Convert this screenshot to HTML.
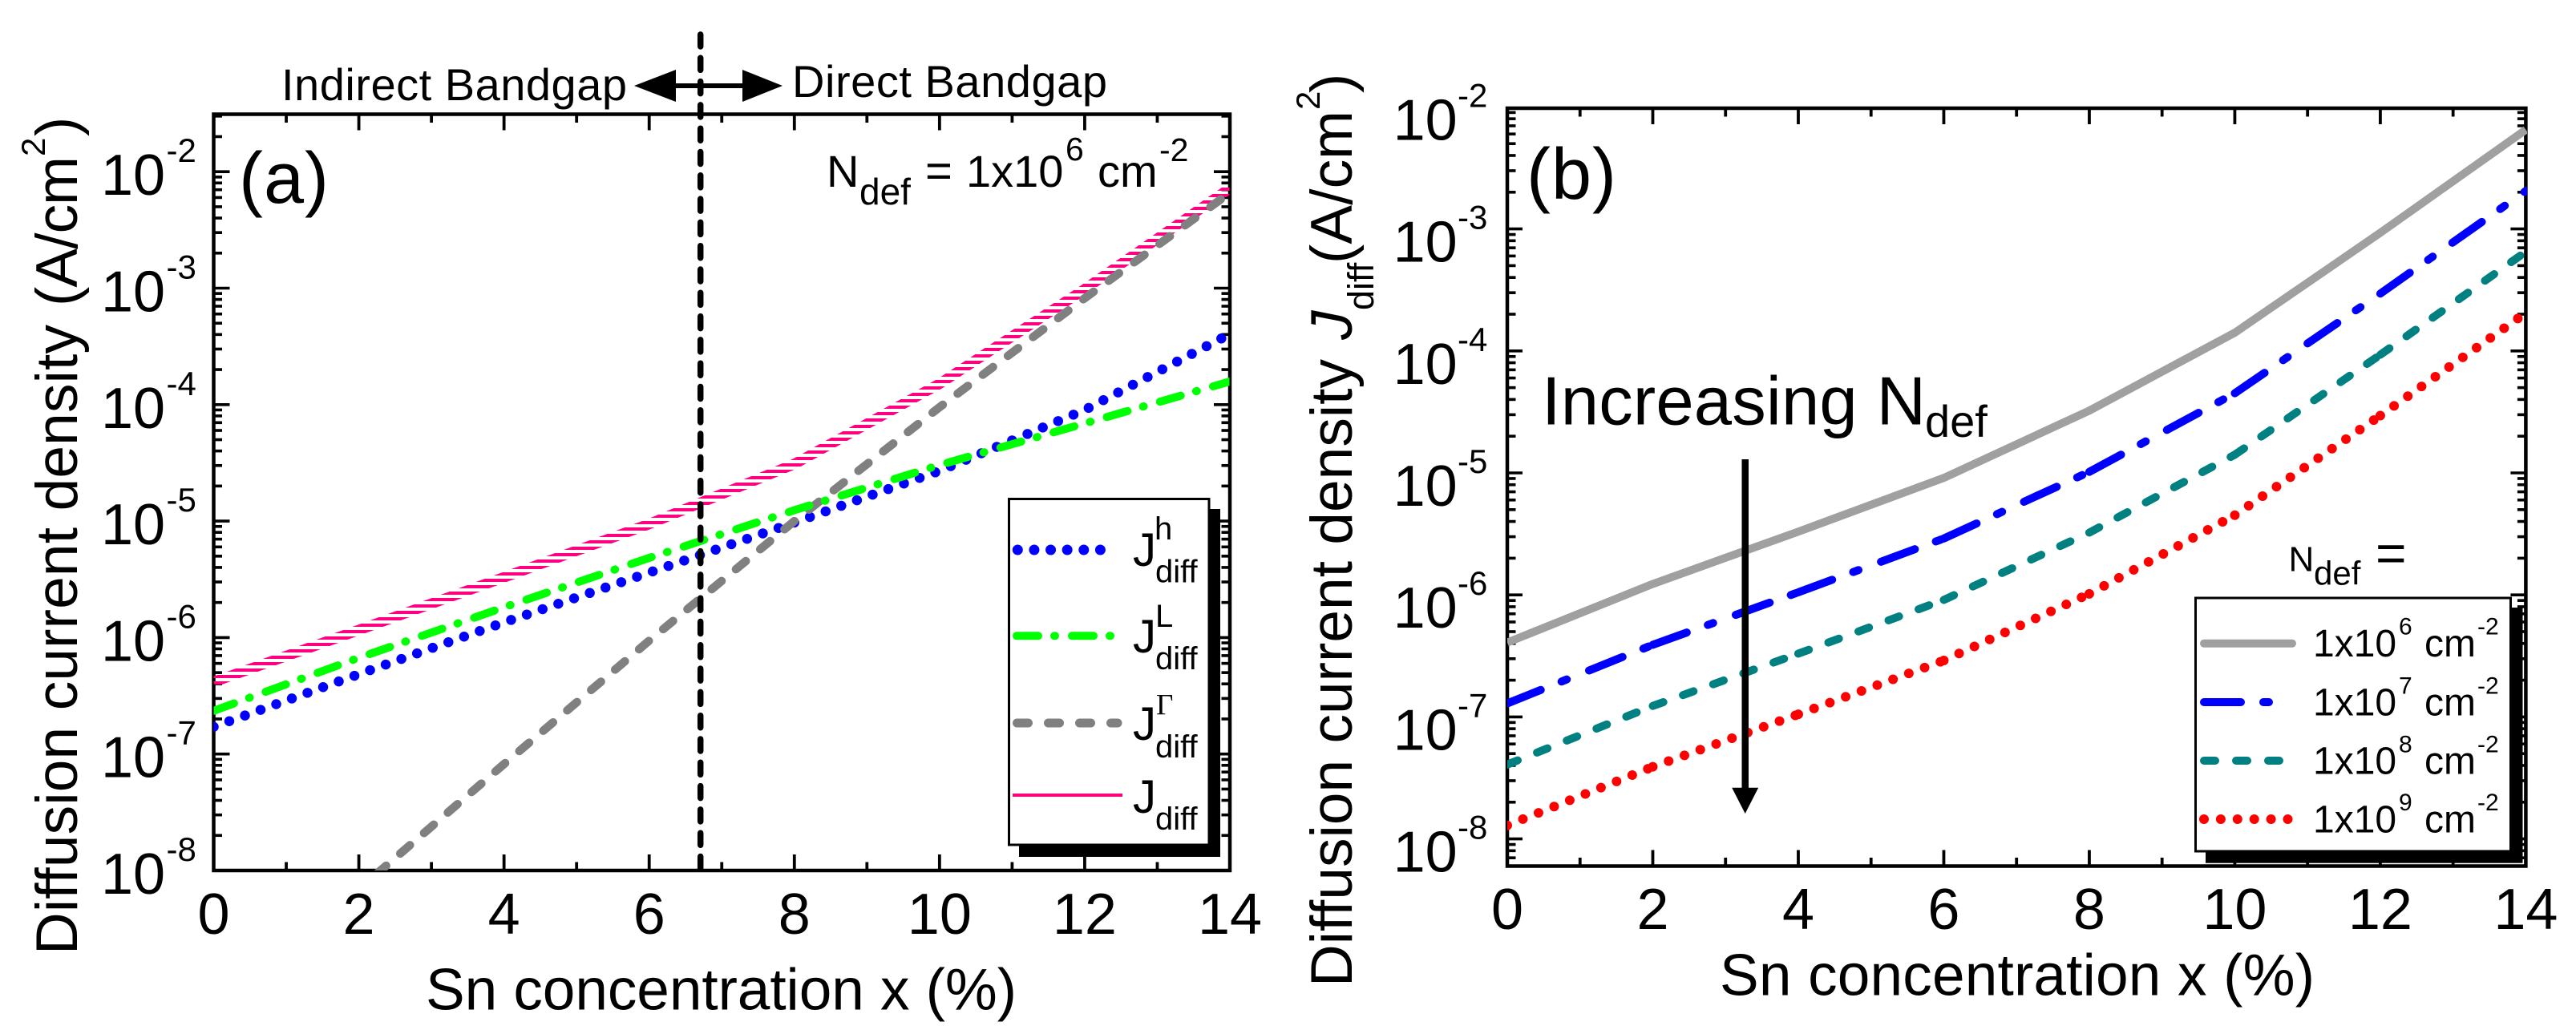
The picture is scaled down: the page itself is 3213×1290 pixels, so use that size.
<!DOCTYPE html>
<html lang="en">
<head>
<meta charset="utf-8">
<title>Diffusion current density vs Sn concentration</title>
<style>
html,body{margin:0;padding:0;background:#fff;}
svg{display:block;font-family:"Liberation Sans",Arial,sans-serif;fill:#000;}
</style>
</head>
<body>
<svg id="figure" xmlns="http://www.w3.org/2000/svg" width="3213" height="1290" viewBox="0 0 3213 1290">
  <defs>
    <pattern id="pink-stripes" patternUnits="userSpaceOnUse" x="0" y="234" width="8" height="8">
      <rect x="0" y="0" width="8" height="4" fill="#ff0080"/>
    </pattern>
    <clipPath id="clip-a"><rect x="266.5" y="142.5" width="1267" height="943.5"/></clipPath>
    <clipPath id="clip-b"><rect x="1880" y="135" width="1272" height="945.5"/></clipPath>
  </defs>
  <rect x="0" y="0" width="3213" height="1290" fill="#fff"/>

  <g id="axes-a"></g>
  <g id="series-a" clip-path="url(#clip-a)"></g>
  <g id="axes-b"></g>
  <g id="series-b" clip-path="url(#clip-b)"></g>

  <!-- Panel (a) annotations -->
  <line x1="873.7" y1="43" x2="873.7" y2="1092" stroke="#000" stroke-width="7.5" stroke-linecap="round" stroke-dasharray="15 14.3"/>
  <text x="351" y="125" font-size="56" textLength="431">Indirect Bandgap</text>
  <text x="988" y="121" font-size="56" textLength="393">Direct Bandgap</text>
  <g>
    <rect x="840" y="104" width="90" height="6" fill="#000"/>
    <polygon points="791,107 843,87 843,127" fill="#000"/>
    <polygon points="976,107 926,87 926,127" fill="#000"/>
  </g>
  <text x="298" y="253" font-size="90" textLength="112">(a)</text>
  <g>
    <text x="1031" y="233" font-size="56">N</text>
    <text x="1072" y="255" font-size="46">def</text>
    <text x="1154" y="233" font-size="58">=</text>
    <text x="1205" y="233" font-size="56">1x10</text>
    <text x="1329" y="200" font-size="41">6</text>
    <text x="1369" y="233" font-size="56">cm</text>
    <text x="1446" y="201" font-size="41">-2</text>
  </g>
  <g>
    <text transform="translate(96,1191) rotate(-90)" font-size="73" textLength="786">Diffusion current density</text>
    <text transform="translate(96,382) rotate(-90)" font-size="73" textLength="187">(A/cm</text>
    <text transform="translate(56,195) rotate(-90)" font-size="42">2</text>
    <text transform="translate(96,170) rotate(-90)" font-size="73">)</text>
  </g>
  <text x="531" y="1259.5" font-size="73" textLength="737">Sn concentration x (%)</text>

  <!-- Panel (a) legend -->
  <g>
    <rect x="1271" y="635" width="251" height="434" fill="#000"/>
    <rect x="1258.5" y="622.5" width="249.5" height="431.5" fill="#fff" stroke="#000" stroke-width="3"/>
    <g>
      <line x1="1269.3" y1="686" x2="1393" y2="686" stroke="#0000ff" stroke-width="13" stroke-linecap="round" stroke-dasharray="0 20.62"/>
      <text x="1413" y="706" font-size="58">J</text><text x="1440" y="673" font-size="40">h</text><text x="1441" y="726.5" font-size="40">diff</text>
    </g>
    <g>
      <line x1="1268" y1="793.3" x2="1385" y2="793.3" stroke="#00ff00" stroke-width="10" stroke-linecap="round" stroke-dasharray="27 20 1 21"/>
      <text x="1413" y="814" font-size="58">J</text><text x="1441" y="782" font-size="40">L</text><text x="1441" y="835" font-size="40">diff</text>
    </g>
    <g>
      <line x1="1268.5" y1="902" x2="1394" y2="902" stroke="#808080" stroke-width="11" stroke-linecap="round" stroke-dasharray="14 25"/>
      <text x="1413" y="923" font-size="58">J</text><text x="1442" y="891.7" font-size="37" style="font-family:'Liberation Serif',serif">&#915;</text><text x="1441" y="945" font-size="40">diff</text>
    </g>
    <g>
      <line x1="1263" y1="992" x2="1400" y2="992" stroke="#ff0080" stroke-width="4"/>
      <text x="1413" y="1014" font-size="58">J</text><text x="1441" y="1035" font-size="40">diff</text>
    </g>
  </g>

  <!-- Panel (b) annotations -->
  <text x="1904" y="248" font-size="90" textLength="112">(b)</text>
  <g>
    <text x="1923" y="529.3" font-size="85" textLength="479">Increasing N</text>
    <text x="2401" y="545" font-size="56">def</text>
  </g>
  <g>
    <rect x="2172.5" y="573" width="8.5" height="412" fill="#000"/>
    <polygon points="2160.2,982.7 2193.2,982.7 2176.7,1015" fill="#000"/>
  </g>
  <g>
    <text transform="translate(1686,1231) rotate(-90)" font-size="73" textLength="783">Diffusion current density</text>
    <text transform="translate(1686,424) rotate(-90)" font-size="73" font-style="italic">J</text>
    <text transform="translate(1713,387) rotate(-90)" font-size="45">diff</text>
    <text transform="translate(1686,329) rotate(-90)" font-size="73" textLength="191">(A/cm</text>
    <text transform="translate(1646,137) rotate(-90)" font-size="42">2</text>
    <text transform="translate(1686,116) rotate(-90)" font-size="73">)</text>
  </g>
  <text x="2145" y="1241.7" font-size="73" textLength="742">Sn concentration x (%)</text>

  <!-- Panel (b) legend -->
  <g>
    <text x="2854.5" y="712.7" font-size="44">N</text>
    <text x="2886" y="729.3" font-size="42">def</text>
    <text x="2963" y="712.7" font-size="66">=</text>
  </g>
  <g>
    <rect x="2751" y="758" width="395.5" height="318.7" fill="#000"/>
    <rect x="2738.5" y="746" width="393" height="316" fill="#fff" stroke="#000" stroke-width="3"/>
    <g>
      <line x1="2749" y1="802.7" x2="2859" y2="802.7" stroke="#a0a0a0" stroke-width="10" stroke-linecap="round"/>
      <text x="2885" y="819" font-size="48">1x10</text><text x="2992" y="791.7" font-size="30">6</text><text x="3024" y="819" font-size="48">cm</text><text x="3090" y="791.7" font-size="30">-2</text>
    </g>
    <g>
      <line x1="2749" y1="876" x2="2830" y2="876" stroke="#0000ff" stroke-width="10" stroke-linecap="round" stroke-dasharray="46 28 7 31"/>
      <text x="2885" y="892.7" font-size="48">1x10</text><text x="2992" y="865.5" font-size="30">7</text><text x="3024" y="892.7" font-size="48">cm</text><text x="3090" y="865.5" font-size="30">-2</text>
    </g>
    <g>
      <line x1="2749" y1="949" x2="2843" y2="949" stroke="#008080" stroke-width="10" stroke-linecap="round" stroke-dasharray="14 26"/>
      <text x="2885" y="965.7" font-size="48">1x10</text><text x="2992" y="938.5" font-size="30">8</text><text x="3024" y="965.7" font-size="48">cm</text><text x="3090" y="938.5" font-size="30">-2</text>
    </g>
    <g>
      <line x1="2749" y1="1022" x2="2853.5" y2="1022" stroke="#ff0000" stroke-width="12" stroke-linecap="round" stroke-dasharray="0 20.9"/>
      <text x="2885" y="1038.3" font-size="48">1x10</text><text x="2992" y="1011" font-size="30">9</text><text x="3024" y="1038.3" font-size="48">cm</text><text x="3090" y="1011" font-size="30">-2</text>
    </g>
  </g>
</svg>

<script>
// ---- Data: Sn concentration (%) and diffusion current density (A/cm^2) ----
const snConcentration = [0, 2, 4, 6, 8, 10, 12, 14];

const panelAHole  = [1.71e-7, 4.85e-7, 1.35e-6, 3.61e-6, 9.72e-6, 2.7e-5, 9.0e-5, 4.04e-4];
const panelALight = [2.35e-7, 6.7e-7, 1.82e-6, 4.83e-6, 1.24e-5, 3.03e-5, 6.9e-5, 1.58e-4];
const panelAGamma = [5e-10, 6.9e-9, 8.2e-8, 9.4e-7, 1.0e-5, 9.5e-5, 8.2e-4, 6.6e-3];
const panelATotal = [4.16e-7, 1.16e-6, 3.29e-6, 9.44e-6, 3.09e-5, 1.51e-4, 9.8e-4, 7.2e-3];

const panelBNdef1e6 = [4.07e-7, 1.23e-6, 3.3e-6, 9.1e-6, 3.24e-5, 1.41e-4, 9.3e-4, 6.5e-3];
const panelBNdef1e7 = [1.29e-7, 3.9e-7, 1.05e-6, 2.9e-6, 1.02e-5, 4.5e-5, 2.95e-4, 2.05e-3];
const panelBNdef1e8 = [4.07e-8, 1.23e-7, 3.3e-7, 9.1e-7, 3.24e-6, 1.41e-5, 9.3e-5, 6.5e-4];
const panelBNdef1e9 = [1.29e-8, 3.9e-8, 1.05e-7, 2.9e-7, 1.02e-6, 4.5e-6, 2.95e-5, 2.05e-4];

const xTickValues = [0, 1, 2, 3, 4, 5, 6, 7, 8, 9, 10, 11, 12, 13, 14];
const xTickLabels = ["0", "2", "4", "6", "8", "10", "12", "14"];
const yTickExponents = [-8, -7, -6, -5, -4, -3, -2];
const yTickSuperscripts = ["-8", "-7", "-6", "-5", "-4", "-3", "-2"];

// ---- Axis functions ----
const NS = "http://www.w3.org/2000/svg";
function xA(v) { return 266.5 + v * (1534 - 266.5) / 14; }
function yA(v) { return 1086 - (Math.log10(v) + 8) * 145.3; }
function xB(v) { return 1880 + v * (3150.4 - 1880) / 14; }
function yB(v) { return 1046.6 - (Math.log10(v) + 8) * 152.2; }

function pathFrom(xs, ys, xFn, yFn) {
  return xs.map(function (x, i) {
    return (i ? "L" : "M") + xFn(x).toFixed(2) + " " + yFn(ys[i]).toFixed(2);
  }).join(" ");
}

function addPath(parent, d, stroke, width, dash, cap) {
  const el = document.createElementNS(NS, "path");
  el.setAttribute("d", d);
  el.setAttribute("fill", "none");
  el.setAttribute("stroke", stroke);
  el.setAttribute("stroke-width", width);
  el.setAttribute("stroke-linecap", cap);
  el.setAttribute("stroke-linejoin", "round");
  if (dash) el.setAttribute("stroke-dasharray", dash);
  parent.appendChild(el);
  return el;
}

function addRule(parent, x1, y1, x2, y2, width) {
  const el = document.createElementNS(NS, "line");
  el.setAttribute("x1", x1);
  el.setAttribute("y1", y1);
  el.setAttribute("x2", x2);
  el.setAttribute("y2", y2);
  el.setAttribute("stroke", "#000");
  el.setAttribute("stroke-width", width);
  parent.appendChild(el);
  return el;
}

function addText(parent, x, y, size, str, anchor) {
  const el = document.createElementNS(NS, "text");
  el.setAttribute("x", x);
  el.setAttribute("y", y);
  el.setAttribute("font-size", size);
  if (anchor) el.setAttribute("text-anchor", anchor);
  el.textContent = str;
  parent.appendChild(el);
  return el;
}

function drawAxes(g, box, xFn, yFn, opts) {
  const frame = document.createElementNS(NS, "rect");
  frame.setAttribute("x", box.left);
  frame.setAttribute("y", box.top);
  frame.setAttribute("width", box.right - box.left);
  frame.setAttribute("height", box.bottom - box.top);
  frame.setAttribute("fill", "none");
  frame.setAttribute("stroke", "#000");
  frame.setAttribute("stroke-width", "4.5");
  
  
  g.appendChild(frame);

  xTickValues.forEach(function (v) {
    const major = v % 2 === 0;
    const len = major ? 20 : 10.5;
    const bottomTick = addRule(g, xFn(v), box.bottom, xFn(v), box.bottom - len, 3.8);
    
    
    const topTick = addRule(g, xFn(v), box.top, xFn(v), box.top + len, 3.8);
    
    
  });

  xTickLabels.forEach(function (label) {
    const t = addText(g, xFn(Number(label)), opts.xLabelY, 72, label, "middle");
    
    
  });

  for (let e = -9; e <= -2; e++) {
    for (let m = 1; m <= 9; m++) {
      const y = yFn(m * Math.pow(10, e));
      if (y > box.bottom + 0.5 || y < box.top - 0.5) continue;
      const len = m === 1 ? opts.majorLen : 10.5;
      const leftTick = addRule(g, box.left, y, box.left + len, y, 3.6);
      
      
      const rightTick = addRule(g, box.right, y, box.right - len, y, 3.6);
      
      
    }
  }

  yTickExponents.forEach(function (e, i) {
    const y = yFn(Math.pow(10, e));
    const base = addText(g, opts.yLabelX, y + opts.yLabelDy, 72, "10");
    
    
    const sup = addText(g, opts.ySupX, y + opts.yLabelDy - 41, 42, yTickSuperscripts[i]);
    
    
  });
}

// ---- Panel (a) ----
const axesA = document.getElementById("axes-a");
drawAxes(axesA, { left: 266.5, right: 1534, top: 142.5, bottom: 1086 }, xA, yA,
  { xLabelY: 1165, majorLen: 20, yLabelX: 126, ySupX: 207.5, yLabelDy: 29 });

const seriesA = document.getElementById("series-a");
const lineTotal = addPath(seriesA, pathFrom(snConcentration, panelATotal, xA, yA), "url(#pink-stripes)", 13, null, "butt");


const lineHole = addPath(seriesA, pathFrom(snConcentration, panelAHole, xA, yA), "#0000ff", 12.5, "0 20.75", "round");


const lineGamma = addPath(seriesA, pathFrom(snConcentration, panelAGamma, xA, yA), "#808080", 10.5, "16 23.2", "round");


const lineLight = addPath(seriesA, pathFrom(snConcentration, panelALight, xA, yA), "#00ff00", 10, "27 20 1 21", "round");



// ---- Panel (b) ----
const axesB = document.getElementById("axes-b");
drawAxes(axesB, { left: 1880, right: 3150.4, top: 135, bottom: 1080.5 }, xB, yB,
  { xLabelY: 1159, majorLen: 19, yLabelX: 1737.6, ySupX: 1818, yLabelDy: 41 });

const seriesB = document.getElementById("series-b");
const lineN6 = addPath(seriesB, pathFrom(snConcentration, panelBNdef1e6, xB, yB), "#a0a0a0", 10, null, "butt");



// The source plot restarts its dash pattern at every data point, so each interval is its own stroke.
function segmented(values, stroke, width, dash, name) {
  const g = document.createElementNS(NS, "g");
  
  
  seriesB.appendChild(g);
  for (let i = 0; i < snConcentration.length - 1; i++) {
    const d = pathFrom(snConcentration.slice(i, i + 2), values.slice(i, i + 2), xB, yB);
    const seg = addPath(g, d, stroke, width, dash, "round");
    
    
  }
}
segmented(panelBNdef1e7, "#0000ff", 10, "45 28 7 30", "series-ndef-1e7");
segmented(panelBNdef1e8, "#008080", 10, "14 26", "series-ndef-1e8");
segmented(panelBNdef1e9, "#ff0000", 12, "0 21", "series-ndef-1e9");
</script>
</body>
</html>
